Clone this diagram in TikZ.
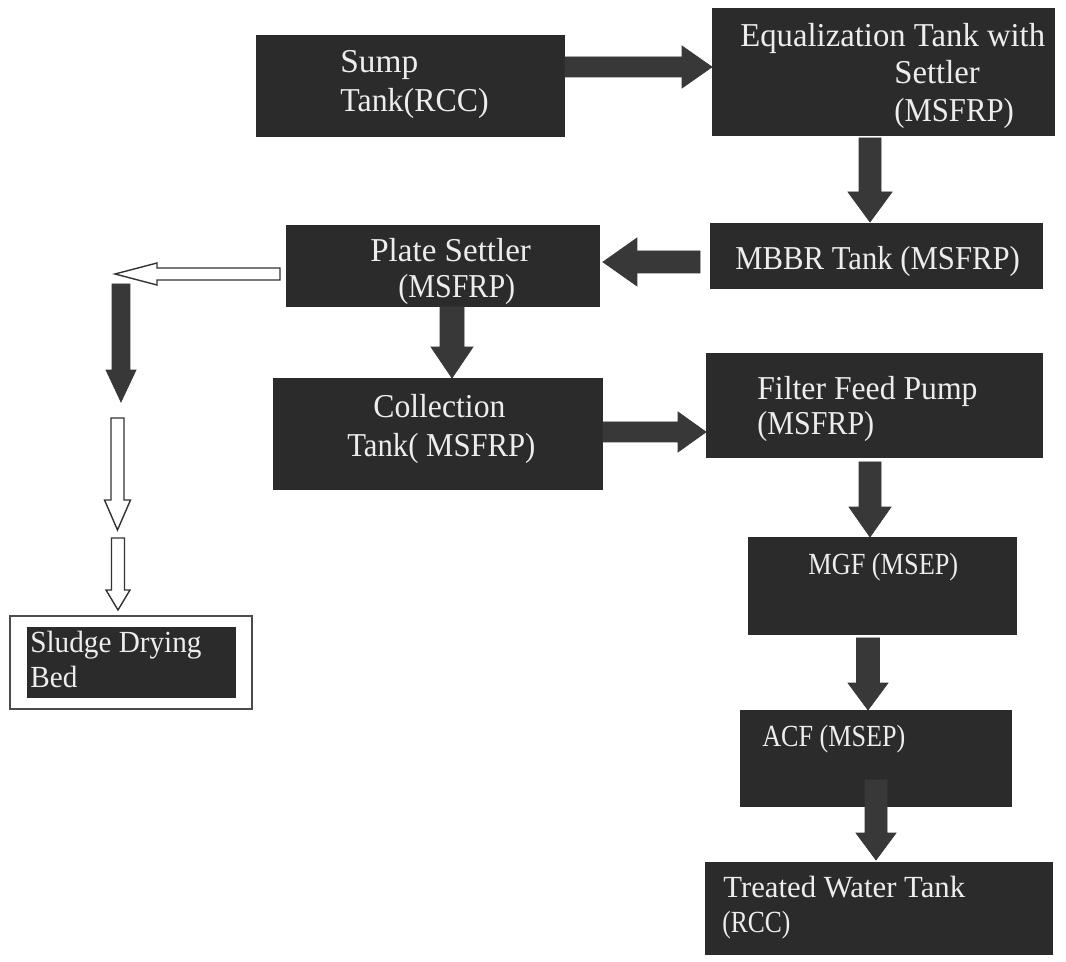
\documentclass[tikz,border=0pt]{standalone}
\usepackage{fontspec}
\usepackage{graphicx}
\setmainfont{Liberation Serif}
\usetikzlibrary{calc}
\definecolor{boxfill}{HTML}{2B2B2B}
\definecolor{arrowfill}{HTML}{383838}
\definecolor{txt}{HTML}{EDEDED}
\newcommand{\barrow}[6][]{%
  \coordinate (bab) at ($(#3)!#6!(#2)$);
  \draw[#1] ($(#2)!#4!90:(#3)$) -- ($(bab)!#4!90:(#3)$) -- ($(bab)!#5!90:(#3)$) -- (#3) -- ($(bab)!#5!-90:(#3)$) -- ($(bab)!#4!-90:(#3)$) -- ($(#2)!#4!-90:(#3)$) -- cycle;}
\newcommand{\sx}[2]{\scalebox{#1}[1]{#2}}
\tikzset{
  box/.style args={#1/#2}{draw=none, fill=boxfill, minimum width=#1*0.02cm, minimum height=#2*0.02cm, inner sep=0pt},
  frame/.style args={#1/#2}{draw=black!70, line width=0.8pt, fill=white, minimum width=#1*0.02cm, minimum height=#2*0.02cm, inner sep=0pt},
  ttop/.style={text=txt, inner sep=0pt, anchor=base west, font=\fontsize{19}{23}\selectfont},
  tlow/.style={text=txt, inner sep=0pt, anchor=base west, font=\fontsize{17.5}{21}\selectfont},
  dark/.style={fill=arrowfill, draw=arrowfill, line width=0.4pt},
  light/.style={fill=white, draw=black!80, line width=0.8pt},
}
\begin{document}
\begin{tikzpicture}[x=0.02cm, y=-0.02cm]
\useasboundingbox (0,0) rectangle (1066,962);
\fill[white] (0,0) rectangle (1066,962);
% boxes
\node[box=309/102] (sump) at (410.5,86) {};
\node[box=343/128] (eq) at (883.5,72) {};
\node[box=333/66] (mbbr) at (876.5,256) {};
\node[box=314/82] (plate) at (443,266) {};
\node[box=330/112] (coll) at (438,434) {};
\node[box=337/105] (filt) at (874.5,405.5) {};
\node[box=269/98] (mgf) at (882.5,586) {};
\node[box=272/97] (acf) at (876,758.5) {};
\node[box=348/93] (treat) at (879,908.5) {};
\node[frame=242/93] (sludgeframe) at (131,662.5) {};
\node[box=209/71] (sludge) at (131.5,662.5) {};
% texts
\node[ttop] (t1) at (340,73) {Sump};
\node[ttop] (t2) at (340,112) {\sx{0.955}{Tank(RCC)}};
\node[ttop] (t3) at (740,47) {\sx{0.98}{Equalization Tank with}};
\node[ttop] (t4) at (894,84) {\sx{0.98}{Settler}};
\node[ttop] (t5) at (894,122) {\sx{0.92}{(MSFRP)}};
\node[ttop] (t6) at (735,270) {\sx{0.92}{MBBR Tank (MSFRP)}};
\node[ttop] (t7) at (370,262) {\sx{0.99}{Plate Settler}};
\node[ttop] (t8) at (398,298) {\sx{0.9}{(MSFRP)}};
\node[ttop] (t9) at (373,418) {\sx{0.95}{Collection}};
\node[ttop] (t10) at (347,457) {\sx{0.92}{Tank( MSFRP)}};
\node[ttop] (t11) at (757,400) {\sx{0.95}{Filter Feed Pump}};
\node[ttop] (t12) at (757,435) {\sx{0.9}{(MSFRP)}};
\node[tlow] (t13) at (808,575) {\sx{0.856}{MGF (MSEP)}};
\node[tlow] (t14) at (762,747) {\sx{0.85}{ACF (MSEP)}};
\node[tlow] (t15) at (723,898) {\sx{1.0}{Treated Water Tank}};
\node[tlow] (t16) at (722,933) {\sx{0.83}{(RCC)}};
\node[tlow] (t17) at (30,653) {\sx{0.95}{Sludge Drying}};
\node[tlow] (t18) at (30,688) {\sx{0.95}{Bed}};
% arrow end points
\coordinate (a1s) at (565,67);   \coordinate (a1e) at (712,67);
\coordinate (a2s) at (870,138);  \coordinate (a2e) at (870,222);
\coordinate (a3s) at (700,262);  \coordinate (a3e) at (603,262);
\coordinate (a4s) at (280,274);  \coordinate (a4e) at (115,274);
\coordinate (a5s) at (121,284);  \coordinate (a5e) at (121,402);
\coordinate (a6s) at (117.5,418);  \coordinate (a6e) at (117.5,530);
\coordinate (a7s) at (118,538);  \coordinate (a7e) at (118,610);
\coordinate (a8s) at (452,307);  \coordinate (a8e) at (452,378);
\coordinate (a9s) at (603,432);  \coordinate (a9e) at (706,432);
\coordinate (a10s) at (870,462); \coordinate (a10e) at (870,537);
\coordinate (a11s) at (868,638); \coordinate (a11e) at (868,710);
\coordinate (a12s) at (876,780); \coordinate (a12e) at (876,860);
% arrows
\barrow[dark]{a1s}{a1e}{0.2cm}{0.42cm}{0.6cm}
\barrow[dark]{a2s}{a2e}{0.22cm}{0.44cm}{0.6cm}
\barrow[dark]{a3s}{a3e}{0.22cm}{0.48cm}{0.68cm}
\barrow[light]{a4s}{a4e}{0.12cm}{0.22cm}{0.84cm}
\barrow[dark]{a5s}{a5e}{0.18cm}{0.3cm}{0.64cm}
\barrow[light]{a6s}{a6e}{0.13cm}{0.26cm}{0.6cm}
\barrow[light]{a7s}{a7e}{0.13cm}{0.24cm}{0.4cm}
\barrow[dark]{a8s}{a8e}{0.24cm}{0.42cm}{0.62cm}
\barrow[dark]{a9s}{a9e}{0.2cm}{0.4cm}{0.56cm}
\barrow[dark]{a10s}{a10e}{0.22cm}{0.42cm}{0.6cm}
\barrow[dark]{a11s}{a11e}{0.23cm}{0.4cm}{0.54cm}
\barrow[dark]{a12s}{a12e}{0.22cm}{0.4cm}{0.54cm}
\end{tikzpicture}
\end{document}
